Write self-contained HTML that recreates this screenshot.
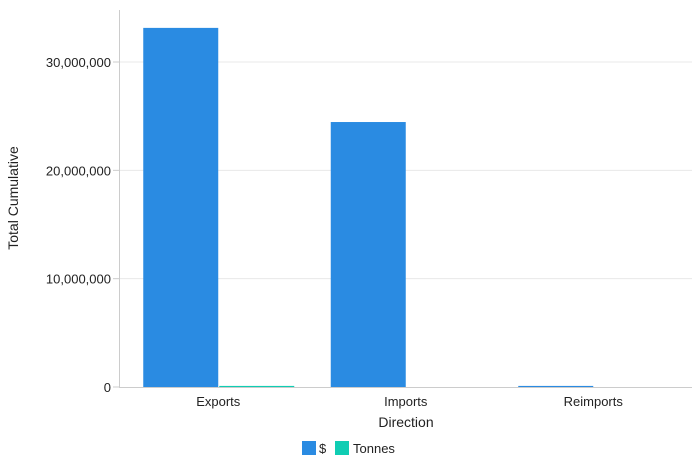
<!DOCTYPE html>
<html><head><meta charset="utf-8"><style>
body{margin:0;background:#fff;font-family:"Liberation Sans",sans-serif;}
svg text{font-family:"Liberation Sans",sans-serif;fill:#222;}
</style></head><body>
<svg id="c" width="697" height="469"></svg>
<script>
const categories=["Exports","Imports","Reimports"];
const dollars=[33150000,24460000,100000];
const tonnes=[100000,0,0];
const yTicks=[0,10000000,20000000,30000000];
const yTickLabels=["0","10,000,000","20,000,000","30,000,000"];
const svg=document.getElementById('c');
const NS='http://www.w3.org/2000/svg';
function mk(t,a,p){const e=document.createElementNS(NS,t);for(const k in a)e.setAttribute(k,a[k]);(p||svg).appendChild(e);return e;}
const baseY=387,pxPer=108.33/10000000;
const y=v=>baseY-v*pxPer;
const x0=124.5,band=187.5,bw=75;
const cx=i=>x0+band*(i+0.5);
yTicks.forEach((t,i)=>{
  if(t>0){const g=mk('line',{x1:119,x2:692,y1:y(t),y2:y(t),stroke:'#e8e8e8'});
  
  }
  const tk=mk('line',{x1:113,x2:119,y1:y(t),y2:y(t),stroke:'#ccc'});
  
  
  const l=mk('text',{x:111,y:y(t)+5,'text-anchor':'end','font-size':13});
  l.textContent=yTickLabels[i];
  
  
});
const ax=mk('line',{x1:119.5,x2:119.5,y1:10,y2:387,stroke:'#ccc'});


categories.forEach((c,i)=>{
  const h1=Math.max(dollars[i]*pxPer,0);
  const b1=mk('rect',{x:cx(i)-bw,y:y(dollars[i]),width:bw,height:h1,fill:'#2a8be2'});
  
  
  const h2=Math.max(tonnes[i]*pxPer,0);
  const b2=mk('rect',{x:cx(i)+1,y:y(tonnes[i]),width:bw,height:h2,fill:'#10cdb3'});
  
  
  const l=mk('text',{x:cx(i),y:406,'text-anchor':'middle','font-size':13});
  l.textContent=c;
  
  
});
const xa=mk('line',{x1:119,x2:692,y1:387.5,y2:387.5,stroke:'#ccc'});


const xt=mk('text',{x:406,y:427,'text-anchor':'middle','font-size':14});
xt.textContent='Direction';


const yt=mk('text',{x:18,y:198,'text-anchor':'middle','font-size':14,transform:'rotate(-90 18 198)'});
yt.textContent='Total Cumulative';


const lg1=mk('rect',{x:302,y:441,width:14,height:14,fill:'#2a8be2'});


const lt1=mk('text',{x:319,y:453,'font-size':13});
lt1.textContent='$';


const lg2=mk('rect',{x:335,y:441,width:14,height:14,fill:'#10cdb3'});


const lt2=mk('text',{x:353,y:453,'font-size':13});
lt2.textContent='Tonnes';


</script>
</body></html>
